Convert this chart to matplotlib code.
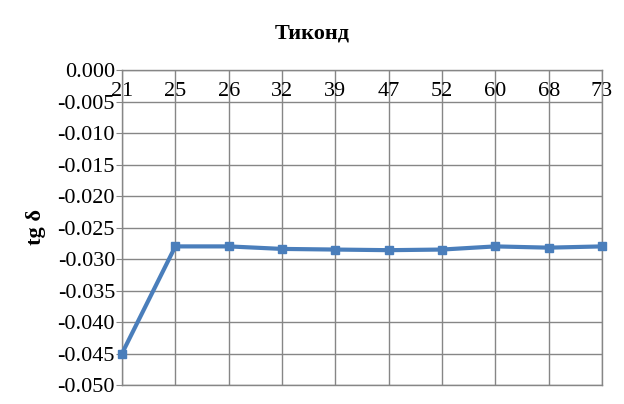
import matplotlib.pyplot as plt
import numpy as np

temps = ["21", "25", "26", "32", "39", "47", "52", "60", "68", "73"]
tg_delta = [-0.045, -0.028, -0.028, -0.0284, -0.0285, -0.0286, -0.0285, -0.028, -0.0282, -0.028]

plt.rcParams['font.family'] = ['Liberation Serif', 'DejaVu Serif']

fig = plt.figure(figsize=(6.24, 4.04), dpi=100)
ax = fig.add_axes([122 / 624, 1 - 385 / 404, 480 / 624, 315 / 404])

x = np.arange(len(temps))
ax.plot(x, tg_delta, "-s", color="#4a7ebb", linewidth=3, markersize=6, zorder=3, clip_on=False)

ax.set_xlim(0, len(temps) - 1)
ax.set_ylim(-0.050, 0.0)
yt = np.arange(-0.050, 0.0001, 0.005)
ax.set_yticks(yt)
ax.set_yticklabels([f"{v:.3f}".replace("-0.000", "0.000") for v in yt])
ax.set_xticks(x)
ax.set_xticklabels(temps)

ax.grid(True, color="#868686", linewidth=1)
ax.set_axisbelow(True)
for s in ax.spines.values():
    s.set_color("#868686")
    s.set_linewidth(1)

ax.tick_params(axis='x', top=True, labeltop=True, bottom=False, labelbottom=False,
               length=0, pad=-22, labelsize=16)
ax.tick_params(axis='y', length=4, color="#868686", labelsize=16, pad=1)

ax.set_ylabel("tg δ", fontsize=16, fontweight="bold", labelpad=8)
fig.text(312 / 624, 1 - 33 / 404, "Тиконд", ha="center", va="center",
         fontsize=16, fontweight="bold")

fig.savefig("out.png", dpi=100)
